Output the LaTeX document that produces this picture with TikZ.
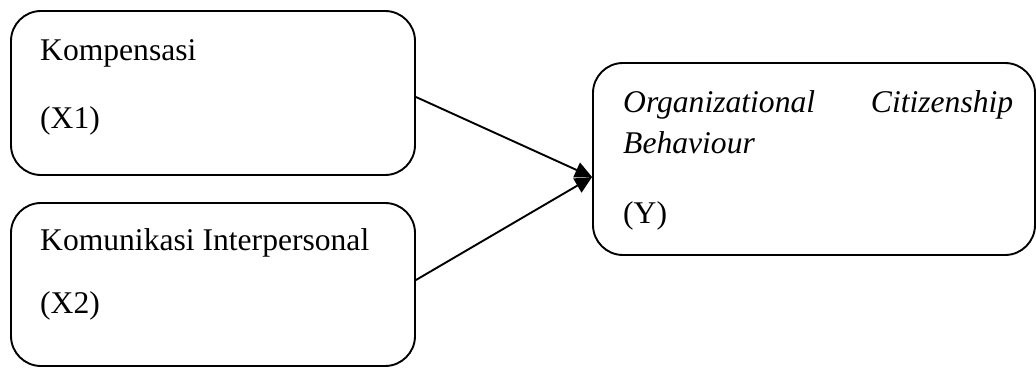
\documentclass[tikz,border=0pt]{standalone}
\usepackage{fontspec}
\setmainfont{Liberation Serif}
\usetikzlibrary{arrows.meta}
\begin{document}
\begin{tikzpicture}[x=1pt,y=-1pt,
  box/.style={draw=black,line width=1.9pt,rounded corners=30pt,inner sep=0pt},
  txt/.style={anchor=base west,inner sep=0pt,font=\fontsize{31.6}{38}\selectfont},
  conn/.style={line width=1.9pt,-{Triangle[length=17pt,width=16pt]}}]
\useasboundingbox (0,0) rectangle (1036,367);
\node[box,minimum width=404pt,minimum height=164pt] (b1) at (213,93) {};
\node[box,minimum width=404pt,minimum height=163pt] (b2) at (213,284.5) {};
\node[box,minimum width=442pt,minimum height=192pt] (b3) at (814,159) {};
\node[txt] (t1) at (40,60) {Kompensasi};
\node[txt] (t2) at (40,128) {(X1)};
\node[txt] (t3) at (40,250) {Komunikasi Interpersonal};
\node[txt] (t4) at (40,313) {(X2)};
\node[txt] (t5) at (623,112) {\hbox to 390pt{\itshape Organizational\hfill Citizenship}};
\node[txt] (t6) at (623,153) {\itshape Behaviour};
\node[txt] (t7) at (623,223) {(Y)};
\draw[conn] ([yshift=-4pt]b1.east) -- ([yshift=-18pt]b3.west);
\draw[conn] ([yshift=4.5pt]b2.east) -- ([yshift=-18pt]b3.west);
\end{tikzpicture}
\end{document}
